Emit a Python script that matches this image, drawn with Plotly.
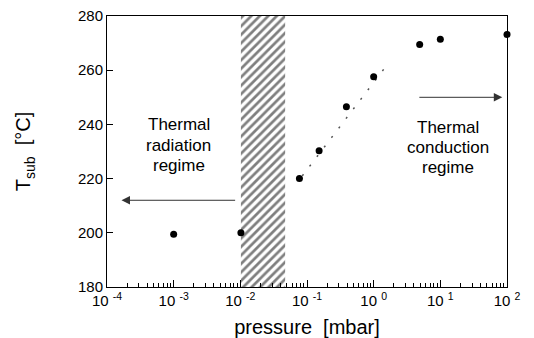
import math
import plotly.graph_objects as go

# data
pressure = [0.001, 0.0102, 0.077, 0.152, 0.39, 1.0, 4.9, 10.0, 100.0]
t_sub = [199.5, 200.0, 220.0, 230.3, 246.5, 257.6, 269.5, 271.4, 273.2]

fit_p = [0.085, 1.65]
fit_t = [221.0, 262.5]

hatch_p = [0.0102, 0.047]
t_range = [180, 280]

xtick_vals = [1e-4, 1e-3, 1e-2, 1e-1, 1e0, 1e1, 1e2]
xtick_text = ["10 <sup>-4</sup>", "10 <sup>-3</sup>", "10 <sup>-2</sup>", "10 <sup>-1</sup>",
              "10 <sup>0</sup>", "10 <sup>1</sup>", "10 <sup>2</sup>"]
ytick_vals = [180, 200, 220, 240, 260, 280]

rad_arrow_p = [0.0088, 1.65e-4]
rad_arrow_t = 212
con_arrow_p = [4.6, 85]
con_arrow_t = 250

rad_lines = ["Thermal", "radiation", "regime"]
rad_line_t = [239.8, 232.4, 225.0]
rad_p = 1.2e-3
con_lines = ["Thermal", "conduction", "regime"]
con_line_t = [238.8, 231.4, 224.0]
con_p = 13

FONT = "Liberation Sans, Arial, Helvetica, sans-serif"

fig = go.Figure()

# hatched transition zone
fig.add_trace(go.Scatter(
    x=[hatch_p[0], hatch_p[1], hatch_p[1], hatch_p[0], hatch_p[0]],
    y=[t_range[0], t_range[0], t_range[1], t_range[1], t_range[0]],
    mode="lines", fill="toself", line=dict(width=0, color="rgba(0,0,0,0)"),
    fillcolor="white",
    fillpattern=dict(shape="/", size=6, solidity=0.45, fgcolor="black", bgcolor="white"),
    hoverinfo="skip", showlegend=False))

# dotted trend line
fig.add_trace(go.Scatter(
    x=fit_p, y=fit_t, mode="lines",
    line=dict(color="#555", width=1.5, dash="2px,10px"),
    showlegend=False, hoverinfo="skip"))

# data points
fig.add_trace(go.Scatter(
    x=pressure, y=t_sub, mode="markers",
    marker=dict(color="black", size=7),
    showlegend=False, cliponaxis=False))


def lx(v):
    return math.log10(v)


fig.add_annotation(x=lx(rad_arrow_p[1]), y=rad_arrow_t, ax=lx(rad_arrow_p[0]), ay=rad_arrow_t,
                   xref="x", yref="y", axref="x", ayref="y", text="", showarrow=True,
                   arrowhead=2, arrowsize=1.7, arrowwidth=1, arrowcolor="#333")
fig.add_annotation(x=lx(con_arrow_p[1]), y=con_arrow_t, ax=lx(con_arrow_p[0]), ay=con_arrow_t,
                   xref="x", yref="y", axref="x", ayref="y", text="", showarrow=True,
                   arrowhead=2, arrowsize=1.7, arrowwidth=1, arrowcolor="#333")

for txt, t in zip(rad_lines, rad_line_t):
    fig.add_annotation(x=lx(rad_p), y=t, xref="x", yref="y", text=txt, showarrow=False,
                       font=dict(family=FONT, size=17, color="black"), borderpad=0)
for txt, t in zip(con_lines, con_line_t):
    fig.add_annotation(x=lx(con_p), y=t, xref="x", yref="y", text=txt, showarrow=False,
                       font=dict(family=FONT, size=17, color="black"), borderpad=0)

fig.update_layout(
    width=534, height=338,
    margin=dict(l=107, r=27, t=16, b=51),
    paper_bgcolor="white", plot_bgcolor="white",
    font=dict(family=FONT, size=15, color="black"),
    xaxis=dict(
        type="log", range=[-4, 2], automargin=False,
        tickvals=xtick_vals, ticktext=xtick_text,
        ticks="inside", ticklen=7, tickwidth=1, tickcolor="black",
        minor=dict(ticks="inside", ticklen=4, tickwidth=1, tickcolor="black", dtick="D1", showgrid=False),
        showline=True, linecolor="black", linewidth=1, mirror=True,
        showgrid=False, zeroline=False,
        tickfont=dict(size=15),
        title=dict(text="pressure  [mbar]", font=dict(size=20), standoff=11),
    ),
    yaxis=dict(
        range=t_range, tickvals=ytick_vals, automargin=False,
        ticks="inside", ticklen=6, tickwidth=1, tickcolor="black",
        showline=True, linecolor="black", linewidth=1, mirror=True,
        showgrid=False, zeroline=False,
        tickfont=dict(size=15),
        title=dict(text="T<sub>sub</sub>  [°C]", font=dict(size=20), standoff=41),
    ),
)

fig.write_html("out.html")
